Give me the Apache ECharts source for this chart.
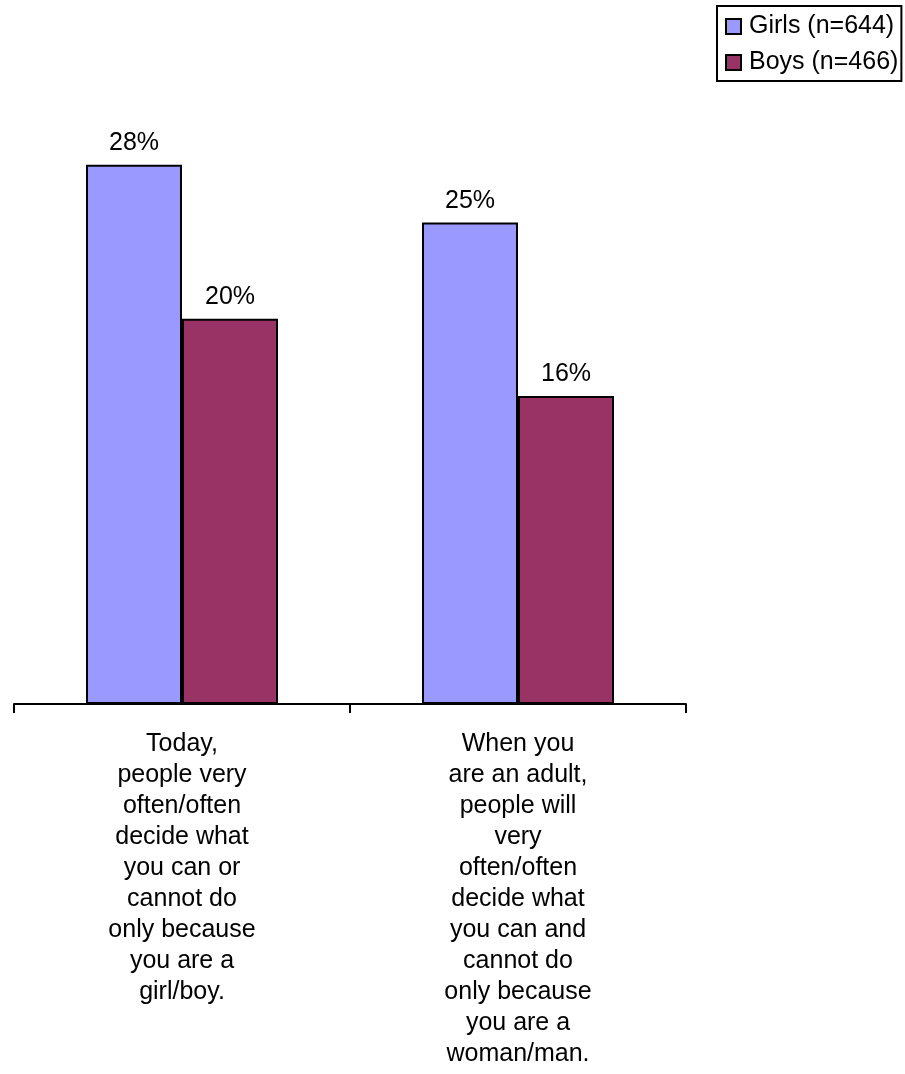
<!DOCTYPE html>
<html>
<head>
<meta charset="utf-8">
<script src="https://cdn.jsdelivr.net/npm/echarts@6/dist/echarts.min.js"></script>
<style>
html,body{margin:0;padding:0;background:#fff;}
#chart{width:905px;height:1074px;}
</style>
</head>
<body>
<div id="chart"></div>
<script>
var categories = [
  "Today,\npeople very\noften/often\ndecide what\nyou can or\ncannot do\nonly because\nyou are a\ngirl/boy.",
  "When you\nare an adult,\npeople will\nvery\noften/often\ndecide what\nyou can and\ncannot do\nonly because\nyou are a\nwoman/man."
];
var seriesNames = ["Girls (n=644)", "Boys (n=466)"];
var girls = [28, 25];
var boys = [20, 16];

var FONT = "'Liberation Sans', Arial, sans-serif";
var chart = echarts.init(document.getElementById('chart'), null, {renderer: 'canvas'});

function barLabel() {
  return {
    show: true,
    position: 'top',
    distance: 9,
    formatter: '{c}%',
    color: '#000',
    fontFamily: FONT,
    fontSize: 25
  };
}

chart.setOption({
  animation: false,
  backgroundColor: '#fff',
  grid: {left: 14, right: 219, top: 30, bottom: 370, containLabel: false},
  legend: {
    orient: 'vertical',
    left: 717,
    top: 6,
    padding: [8, 3, 6, 8],
    itemWidth: 15,
    itemHeight: 15,
    itemGap: 11,
    borderColor: '#000',
    borderWidth: 2,
    icon: 'rect',
    data: seriesNames,
    textStyle: {color: '#000', fontFamily: FONT, fontSize: 25, padding: [0, 0, 0, 3]}
  },
  xAxis: {
    type: 'category',
    data: categories,
    boundaryGap: true,
    axisLine: {show: true, lineStyle: {color: '#000', width: 2}},
    axisTick: {show: true, length: 9, inside: false, alignWithLabel: false, lineStyle: {color: '#000', width: 2}},
    axisLabel: {
      interval: 0,
      margin: 25,
      color: '#000',
      fontFamily: FONT,
      fontSize: 25,
      lineHeight: 31,
      align: 'center'
    },
    splitLine: {show: false}
  },
  yAxis: {
    type: 'value',
    min: 0,
    max: 35,
    show: false,
    splitLine: {show: false}
  },
  series: [
    {
      name: seriesNames[0],
      type: 'bar',
      data: girls,
      barWidth: 96,
      barGap: '0%',
      itemStyle: {color: '#9999FF', borderColor: '#000', borderWidth: 2},
      label: barLabel()
    },
    {
      name: seriesNames[1],
      type: 'bar',
      data: boys,
      barWidth: 96,
      barGap: '0%',
      itemStyle: {color: '#993366', borderColor: '#000', borderWidth: 2},
      label: barLabel()
    }
  ]
});
</script>
</body>
</html>
